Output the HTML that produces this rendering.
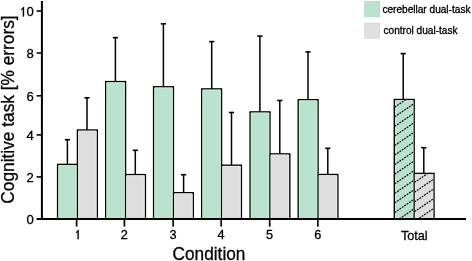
<!DOCTYPE html>
<html><head><meta charset="utf-8"><style>
html,body{margin:0;padding:0;background:#fff;width:472px;height:261px;overflow:hidden}
svg{display:block;font-family:"Liberation Sans", sans-serif;will-change:transform}
text{stroke:#000;stroke-width:0.3px}
path.g{stroke:#000;stroke-width:0.3px;vector-effect:non-scaling-stroke}
</style></head><body>
<svg width="472" height="261" viewBox="0 0 472 261" font-family="Liberation Sans, sans-serif" fill="#000">
<defs><clipPath id="cg"><rect x="395.00" y="100.20" width="18.45" height="118.10"/></clipPath><clipPath id="cy"><rect x="414.85" y="174.10" width="18.45" height="44.20"/></clipPath></defs>
<line x1="67.40" y1="139.7" x2="67.40" y2="164.4" stroke="#000" stroke-width="1.5"/>
<line x1="64.80" y1="139.7" x2="70.00" y2="139.7" stroke="#000" stroke-width="1.6"/>
<line x1="87.00" y1="97.8" x2="87.00" y2="130.0" stroke="#000" stroke-width="1.5"/>
<line x1="84.40" y1="97.8" x2="89.60" y2="97.8" stroke="#000" stroke-width="1.6"/>
<rect x="57.6" y="164.4" width="19.85" height="54.60" fill="#b9e2cf" stroke="#000" stroke-width="1.4"/>
<rect x="77.45" y="130.0" width="19.85" height="89.00" fill="#dedede" stroke="#000" stroke-width="1.4"/>
<path d="M58.80 219.00V165.60H76.25V219.00" fill="none" stroke="#cdeedd" stroke-width="0.9"/>
<path d="M78.65 219.00V131.20H96.10V219.00" fill="none" stroke="#e9e9e9" stroke-width="0.9"/>
<line x1="115.40" y1="37.65" x2="115.40" y2="81.6" stroke="#000" stroke-width="1.5"/>
<line x1="112.80" y1="37.65" x2="118.00" y2="37.65" stroke="#000" stroke-width="1.6"/>
<line x1="135.30" y1="150.3" x2="135.30" y2="174.6" stroke="#000" stroke-width="1.5"/>
<line x1="132.70" y1="150.3" x2="137.90" y2="150.3" stroke="#000" stroke-width="1.6"/>
<rect x="105.7" y="81.6" width="19.85" height="137.40" fill="#b9e2cf" stroke="#000" stroke-width="1.4"/>
<rect x="125.55" y="174.6" width="19.85" height="44.40" fill="#dedede" stroke="#000" stroke-width="1.4"/>
<path d="M106.90 219.00V82.80H124.35V219.00" fill="none" stroke="#cdeedd" stroke-width="0.9"/>
<path d="M126.75 219.00V175.80H144.20V219.00" fill="none" stroke="#e9e9e9" stroke-width="0.9"/>
<line x1="163.40" y1="23.8" x2="163.40" y2="86.8" stroke="#000" stroke-width="1.5"/>
<line x1="160.80" y1="23.8" x2="166.00" y2="23.8" stroke="#000" stroke-width="1.6"/>
<line x1="183.60" y1="174.7" x2="183.60" y2="192.7" stroke="#000" stroke-width="1.5"/>
<line x1="181.00" y1="174.7" x2="186.20" y2="174.7" stroke="#000" stroke-width="1.6"/>
<rect x="153.6" y="86.8" width="19.85" height="132.20" fill="#b9e2cf" stroke="#000" stroke-width="1.4"/>
<rect x="173.45" y="192.7" width="19.85" height="26.30" fill="#dedede" stroke="#000" stroke-width="1.4"/>
<path d="M154.80 219.00V88.00H172.25V219.00" fill="none" stroke="#cdeedd" stroke-width="0.9"/>
<path d="M174.65 219.00V193.90H192.10V219.00" fill="none" stroke="#e9e9e9" stroke-width="0.9"/>
<line x1="211.70" y1="41.6" x2="211.70" y2="88.9" stroke="#000" stroke-width="1.5"/>
<line x1="209.10" y1="41.6" x2="214.30" y2="41.6" stroke="#000" stroke-width="1.6"/>
<line x1="231.50" y1="112.5" x2="231.50" y2="165.2" stroke="#000" stroke-width="1.5"/>
<line x1="228.90" y1="112.5" x2="234.10" y2="112.5" stroke="#000" stroke-width="1.6"/>
<rect x="201.7" y="88.9" width="19.85" height="130.10" fill="#b9e2cf" stroke="#000" stroke-width="1.4"/>
<rect x="221.55" y="165.2" width="19.85" height="53.80" fill="#dedede" stroke="#000" stroke-width="1.4"/>
<path d="M202.90 219.00V90.10H220.35V219.00" fill="none" stroke="#cdeedd" stroke-width="0.9"/>
<path d="M222.75 219.00V166.40H240.20V219.00" fill="none" stroke="#e9e9e9" stroke-width="0.9"/>
<line x1="259.90" y1="36.1" x2="259.90" y2="111.9" stroke="#000" stroke-width="1.5"/>
<line x1="257.30" y1="36.1" x2="262.50" y2="36.1" stroke="#000" stroke-width="1.6"/>
<line x1="279.80" y1="100.5" x2="279.80" y2="153.9" stroke="#000" stroke-width="1.5"/>
<line x1="277.20" y1="100.5" x2="282.40" y2="100.5" stroke="#000" stroke-width="1.6"/>
<rect x="250.1" y="111.9" width="19.85" height="107.10" fill="#b9e2cf" stroke="#000" stroke-width="1.4"/>
<rect x="269.95" y="153.9" width="19.85" height="65.10" fill="#dedede" stroke="#000" stroke-width="1.4"/>
<path d="M251.30 219.00V113.10H268.75V219.00" fill="none" stroke="#cdeedd" stroke-width="0.9"/>
<path d="M271.15 219.00V155.10H288.60V219.00" fill="none" stroke="#e9e9e9" stroke-width="0.9"/>
<line x1="308.00" y1="51.9" x2="308.00" y2="99.7" stroke="#000" stroke-width="1.5"/>
<line x1="305.40" y1="51.9" x2="310.60" y2="51.9" stroke="#000" stroke-width="1.6"/>
<line x1="327.80" y1="148.3" x2="327.80" y2="174.5" stroke="#000" stroke-width="1.5"/>
<line x1="325.20" y1="148.3" x2="330.40" y2="148.3" stroke="#000" stroke-width="1.6"/>
<rect x="298.2" y="99.7" width="19.85" height="119.30" fill="#b9e2cf" stroke="#000" stroke-width="1.4"/>
<rect x="318.05" y="174.5" width="19.85" height="44.50" fill="#dedede" stroke="#000" stroke-width="1.4"/>
<path d="M299.40 219.00V100.90H316.85V219.00" fill="none" stroke="#cdeedd" stroke-width="0.9"/>
<path d="M319.25 219.00V175.70H336.70V219.00" fill="none" stroke="#e9e9e9" stroke-width="0.9"/>
<line x1="403.20" y1="53.6" x2="403.20" y2="99.5" stroke="#000" stroke-width="1.5"/>
<line x1="400.60" y1="53.6" x2="405.80" y2="53.6" stroke="#000" stroke-width="1.6"/>
<line x1="423.80" y1="147.7" x2="423.80" y2="173.4" stroke="#000" stroke-width="1.5"/>
<line x1="421.20" y1="147.7" x2="426.40" y2="147.7" stroke="#000" stroke-width="1.6"/>
<rect x="394.3" y="99.5" width="19.85" height="119.50" fill="#b9e2cf" stroke="#000" stroke-width="1.4"/>
<rect x="414.15" y="173.4" width="19.85" height="45.60" fill="#dedede" stroke="#000" stroke-width="1.4"/>
<path d="M395.50 219.00V100.70H412.95V219.00" fill="none" stroke="#cdeedd" stroke-width="0.9"/>
<path d="M415.35 219.00V174.60H432.80V219.00" fill="none" stroke="#e9e9e9" stroke-width="0.9"/>
<g clip-path="url(#cg)" stroke="#111" stroke-width="1.25" stroke-dasharray="1.9 1.0"><line x1="392.30" y1="99.27" x2="416.15" y2="83.05"/><line x1="392.30" y1="108.84" x2="416.15" y2="92.62"/><line x1="392.30" y1="118.41" x2="416.15" y2="102.19"/><line x1="392.30" y1="127.98" x2="416.15" y2="111.76"/><line x1="392.30" y1="137.55" x2="416.15" y2="121.33"/><line x1="392.30" y1="147.12" x2="416.15" y2="130.90"/><line x1="392.30" y1="156.69" x2="416.15" y2="140.47"/><line x1="392.30" y1="166.26" x2="416.15" y2="150.04"/><line x1="392.30" y1="175.83" x2="416.15" y2="159.61"/><line x1="392.30" y1="185.40" x2="416.15" y2="169.18"/><line x1="392.30" y1="194.97" x2="416.15" y2="178.75"/><line x1="392.30" y1="204.54" x2="416.15" y2="188.32"/><line x1="392.30" y1="214.11" x2="416.15" y2="197.89"/><line x1="392.30" y1="223.68" x2="416.15" y2="207.46"/><line x1="392.30" y1="233.25" x2="416.15" y2="217.03"/></g>
<g clip-path="url(#cy)" stroke="#111" stroke-width="1.25" stroke-dasharray="1.9 1.0"><line x1="412.15" y1="174.29" x2="436.00" y2="158.07"/><line x1="412.15" y1="184.04" x2="436.00" y2="167.82"/><line x1="412.15" y1="193.79" x2="436.00" y2="177.57"/><line x1="412.15" y1="203.54" x2="436.00" y2="187.32"/><line x1="412.15" y1="213.29" x2="436.00" y2="197.07"/><line x1="412.15" y1="223.04" x2="436.00" y2="206.82"/><line x1="412.15" y1="232.79" x2="436.00" y2="216.57"/></g>
<line x1="41.9" y1="1" x2="41.9" y2="220" stroke="#000" stroke-width="2"/>
<line x1="36.9" y1="219.0" x2="466" y2="219.0" stroke="#000" stroke-width="2"/>
<line x1="36.6" y1="11.0" x2="42" y2="11.0" stroke="#000" stroke-width="1.6"/>
<path class="g" transform="translate(19.13 16.40) scale(0.00640 -0.00640)" d="M763 0H583V1147Q530 1090 450 1040Q380 1000 330 985V1140Q420 1190 500 1280Q599 1377 646 1472H763Z"/>
<text x="33.7" y="16.40" text-anchor="end" font-size="13.1">0</text>
<line x1="36.6" y1="53.0" x2="42" y2="53.0" stroke="#000" stroke-width="1.6"/>
<text x="33.7" y="58.40" text-anchor="end" font-size="13.1">8</text>
<line x1="36.6" y1="95.8" x2="42" y2="95.8" stroke="#000" stroke-width="1.6"/>
<text x="33.7" y="100.65" text-anchor="end" font-size="13.1">6</text>
<line x1="36.6" y1="134.9" x2="42" y2="134.9" stroke="#000" stroke-width="1.6"/>
<text x="33.7" y="140.30" text-anchor="end" font-size="13.1">4</text>
<line x1="36.6" y1="176.9" x2="42" y2="176.9" stroke="#000" stroke-width="1.6"/>
<text x="33.7" y="182.30" text-anchor="end" font-size="13.1">2</text>
<line x1="36.6" y1="219.0" x2="42" y2="219.0" stroke="#000" stroke-width="1.6"/>
<text x="33.7" y="224.40" text-anchor="end" font-size="13.1">0</text>
<line x1="76.6" y1="219" x2="76.6" y2="226.6" stroke="#000" stroke-width="1.7"/>
<path class="g" transform="translate(73.97 239.20) scale(0.00620 -0.00620)" d="M763 0H583V1147Q530 1090 450 1040Q380 1000 330 985V1140Q420 1190 500 1280Q599 1377 646 1472H763Z"/>
<line x1="124.4" y1="219" x2="124.4" y2="226.6" stroke="#000" stroke-width="1.7"/>
<text x="124.3" y="239.2" text-anchor="middle" font-size="12.7">2</text>
<line x1="173.2" y1="219" x2="173.2" y2="226.6" stroke="#000" stroke-width="1.7"/>
<text x="173.1" y="239.2" text-anchor="middle" font-size="12.7">3</text>
<line x1="221.2" y1="219" x2="221.2" y2="226.6" stroke="#000" stroke-width="1.7"/>
<text x="221.1" y="239.2" text-anchor="middle" font-size="12.7">4</text>
<line x1="269.7" y1="219" x2="269.7" y2="226.6" stroke="#000" stroke-width="1.7"/>
<text x="269.6" y="239.2" text-anchor="middle" font-size="12.7">5</text>
<line x1="317.8" y1="219" x2="317.8" y2="226.6" stroke="#000" stroke-width="1.7"/>
<text x="317.7" y="239.2" text-anchor="middle" font-size="12.7">6</text>
<text x="414.3" y="239.7" text-anchor="middle" font-size="12.7">Total</text>
<text x="209.0" y="259.6" text-anchor="middle" font-size="18" textLength="72.8" lengthAdjust="spacingAndGlyphs">Condition</text>
<text transform="translate(13.9 109.5) rotate(-90)" text-anchor="middle" font-size="17.5" textLength="188.3" lengthAdjust="spacingAndGlyphs">Cognitive task [% errors]</text>
<rect x="364.6" y="1.4" width="15.2" height="15.3" fill="#b9e2cf" stroke="#a9d6c0" stroke-width="0.6"/>
<rect x="364.6" y="23" width="15.2" height="15.3" fill="#e0e0e0" stroke="#d2d2d2" stroke-width="0.6"/>
<text x="382.4" y="12.7" font-size="10.1">cerebellar dual-task</text>
<text x="383.5" y="34.4" font-size="10.1">control dual-task</text>
</svg>
</body></html>
